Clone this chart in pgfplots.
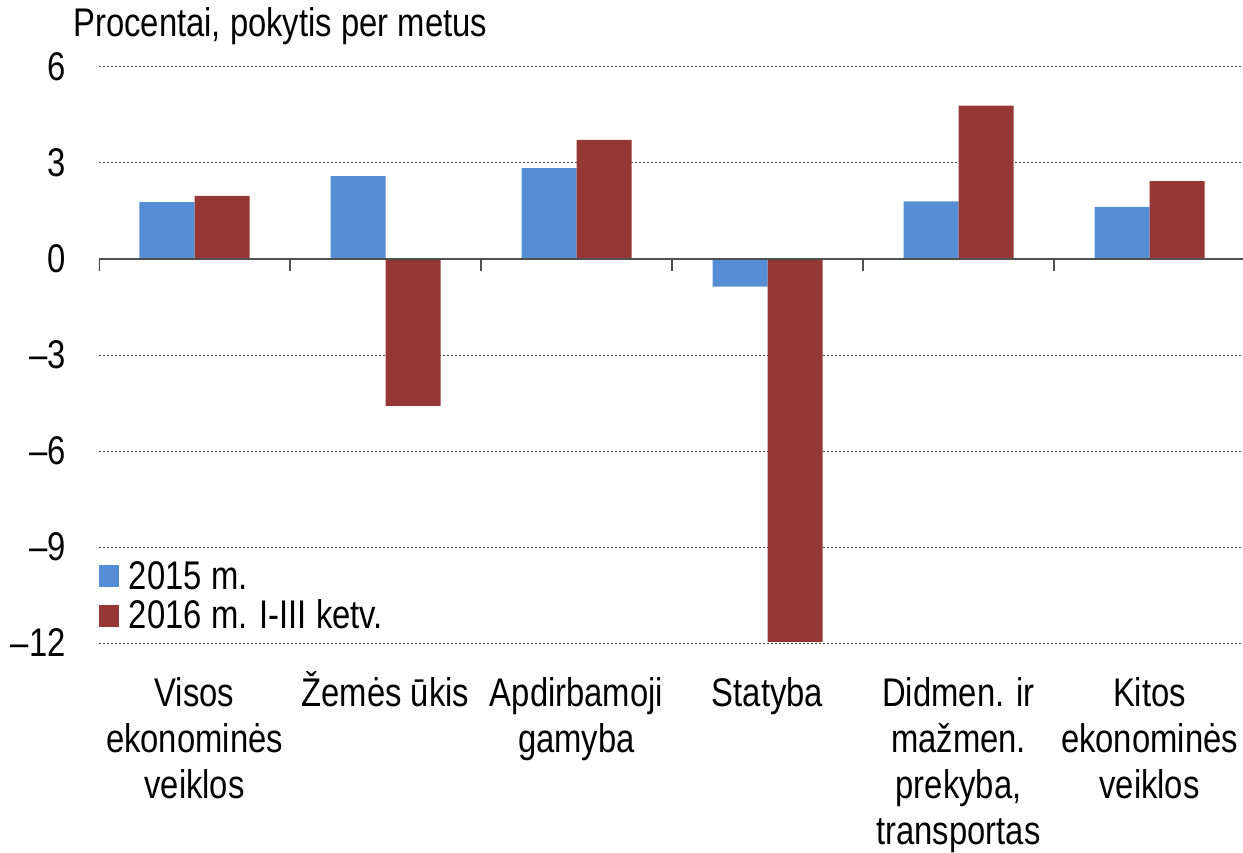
\documentclass[border=0pt]{standalone}
\usepackage{fontspec}
\setmainfont{Liberation Sans}[FakeStretch=0.82]
\usepackage{pgfplots}
\pgfplotsset{compat=1.18}
\definecolor{cblue}{RGB}{85,142,213}
\definecolor{cred}{RGB}{149,55,53}
\definecolor{axgray}{RGB}{80,80,80}
\newcommand{\fs}{\fontsize{24}{27.6}\selectfont}
\begin{document}
\begin{tikzpicture}
\useasboundingbox (-59.4pt,-125.4pt) rectangle (686.4pt,385.8pt);
\begin{axis}[
  at={(0,0)}, anchor=south west,
  scale only axis, width=687.6pt, height=345.6pt,
  xmin=-0.5, xmax=5.5, ymin=-12, ymax=6,
  ybar=0pt, bar width=33pt,
  axis line style={draw=none},
  tick style={draw=none},
  ytick={-12,-9,-6,-3,0,3,6},
  yticklabels={–12,–9,–6,–3,0,3,6},
  xtick={0,1,2,3,4,5},
  xticklabels={{\rule{0pt}{1em}Visos\\ekonominės\\veiklos},
               {\rule{0pt}{1em}Žemės ūkis},
               {\rule{0pt}{1em}Apdirbamoji\\gamyba},
               {\rule{0pt}{1em}Statyba},
               {\rule{0pt}{1em}Didmen. ir\\mažmen.\\prekyba,\\transportas},
               {\rule{0pt}{1em}Kitos\\ekonominės\\veiklos}},
  ymajorgrids,
  grid style={black!75, line width=0.6pt, dash pattern=on 1.2pt off 1.2pt},
  yticklabel style={font=\fs, anchor=east, inner sep=0pt, xshift=-19.8pt},
  xticklabel style={font=\fs, align=center, anchor=north, inner sep=0pt, yshift=-9.5pt},
  legend style={at={(0,0.142)}, anchor=north west, draw=none, fill=none,
    inner sep=0pt, outer sep=0pt, row sep=5pt, font=\fs, nodes={inner sep=0pt},
    /tikz/every odd column/.append style={column sep=6pt}},
  legend cell align=left,
  legend image code/.code={\fill[#1] (0pt,-6.6pt) rectangle (12pt,6.6pt);},
]
\addplot[fill=cblue, draw=none] coordinates {(0,1.78) (1,2.59) (2,2.84) (3,-0.86) (4,1.80) (5,1.63)};
\addplot[fill=cred, draw=none] coordinates {(0,1.97) (1,-4.59) (2,3.72) (3,-11.97) (4,4.79) (5,2.43)};
\legend{2015 m., 2016 m. I-III ketv.}
\draw[axgray, line width=0.9pt] (axis cs:-0.5,0) -- (axis cs:5.5,0);
\pgfplotsinvokeforeach{-0.5,0.5,1.5,2.5,3.5,4.5}{\draw[axgray, line width=0.9pt] (axis cs:#1,0) -- ([yshift=-7.2pt]axis cs:#1,0);}
\end{axis}
\node[anchor=base west, inner sep=0pt, font=\fs] at (-15.6pt,363.6pt) {Procentai, pokytis per metus};
\end{tikzpicture}
\end{document}
